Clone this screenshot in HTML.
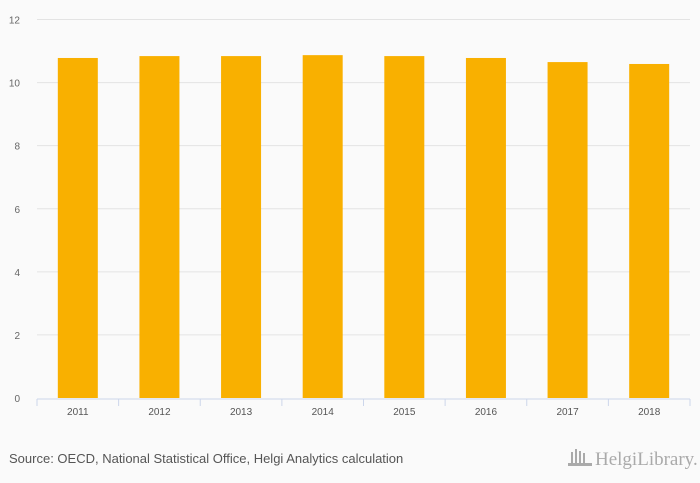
<!DOCTYPE html>
<html><head><meta charset="utf-8"><style>
html,body{margin:0;padding:0;background:#fafafa;}
svg{display:block;font-family:"Liberation Sans",sans-serif;}
</style></head><body>
<svg id="chart" width="700" height="483">
<rect width="700" height="483" fill="#fafafa"/>
<g id="grid"></g><g id="bars"></g><g id="axis"></g>
<text x="9" y="463" font-size="13" fill="#555">Source: OECD, National Statistical Office, Helgi Analytics calculation</text>
<g>
<text x="595" y="465" font-size="19" fill="#aaa" font-family="Liberation Serif,serif">HelgiLibrary.</text>
<g fill="#aaa"><rect x="571" y="452" width="2" height="13"/><rect x="575" y="449" width="2" height="16"/><rect x="579" y="451" width="2" height="14"/><rect x="583" y="453" width="2" height="12"/><rect x="568" y="463" width="24" height="3"/></g>
</g>
</svg>
<script>
const categories=["2011","2012","2013","2014","2015","2016","2017","2018"];
const values=[10.78,10.84,10.84,10.87,10.84,10.78,10.65,10.59];
const yTicks=[0,2,4,6,8,10,12];
const NS="http://www.w3.org/2000/svg";
const x0=37,x1=690,y0=398,yTop=19.5,yMax=12;
const band=(x1-x0)/categories.length;
const y=v=>y0-(v/yMax)*(y0-yTop);
const xc=i=>x0+band*(i+0.5);
function mk(t,a,p){const e=document.createElementNS(NS,t);for(const k in a)e.setAttribute(k,a[k]);p.appendChild(e);return e;}
const grid=document.getElementById('grid'),bars=document.getElementById('bars'),axis=document.getElementById('axis');
yTicks.forEach(v=>{
 if(v>0){const l=mk('line',{x1:x0,x2:x1,y1:y(v),y2:y(v),stroke:'#e3e3e3','stroke-width':1},grid);
 
 }
 const t=mk('text',{x:20,y:y(v)+4,'font-size':10,fill:'#666','text-anchor':'end'},grid);
 t.textContent=v;
 
 
});
values.forEach((v,i)=>{
 const r=mk('rect',{x:xc(i)-20,y:y(v),width:40,height:y0-y(v),fill:'#f9b000'},bars);
 
 
});
const al=mk('line',{x1:x0,x2:x1,y1:y0+1,y2:y0+1,stroke:'#ccd6eb','stroke-width':1},axis);


for(let i=0;i<=categories.length;i++){
 const tk=mk('line',{x1:x0+band*i,x2:x0+band*i,y1:y0+1,y2:y0+8,stroke:'#ccd6eb'},axis);
 
 
}
categories.forEach((c,i)=>{
 const t=mk('text',{x:xc(i),y:y0+17,'font-size':10,fill:'#555','text-anchor':'middle'},axis);
 t.textContent=c;
 
 
});
</script>
</body></html>
